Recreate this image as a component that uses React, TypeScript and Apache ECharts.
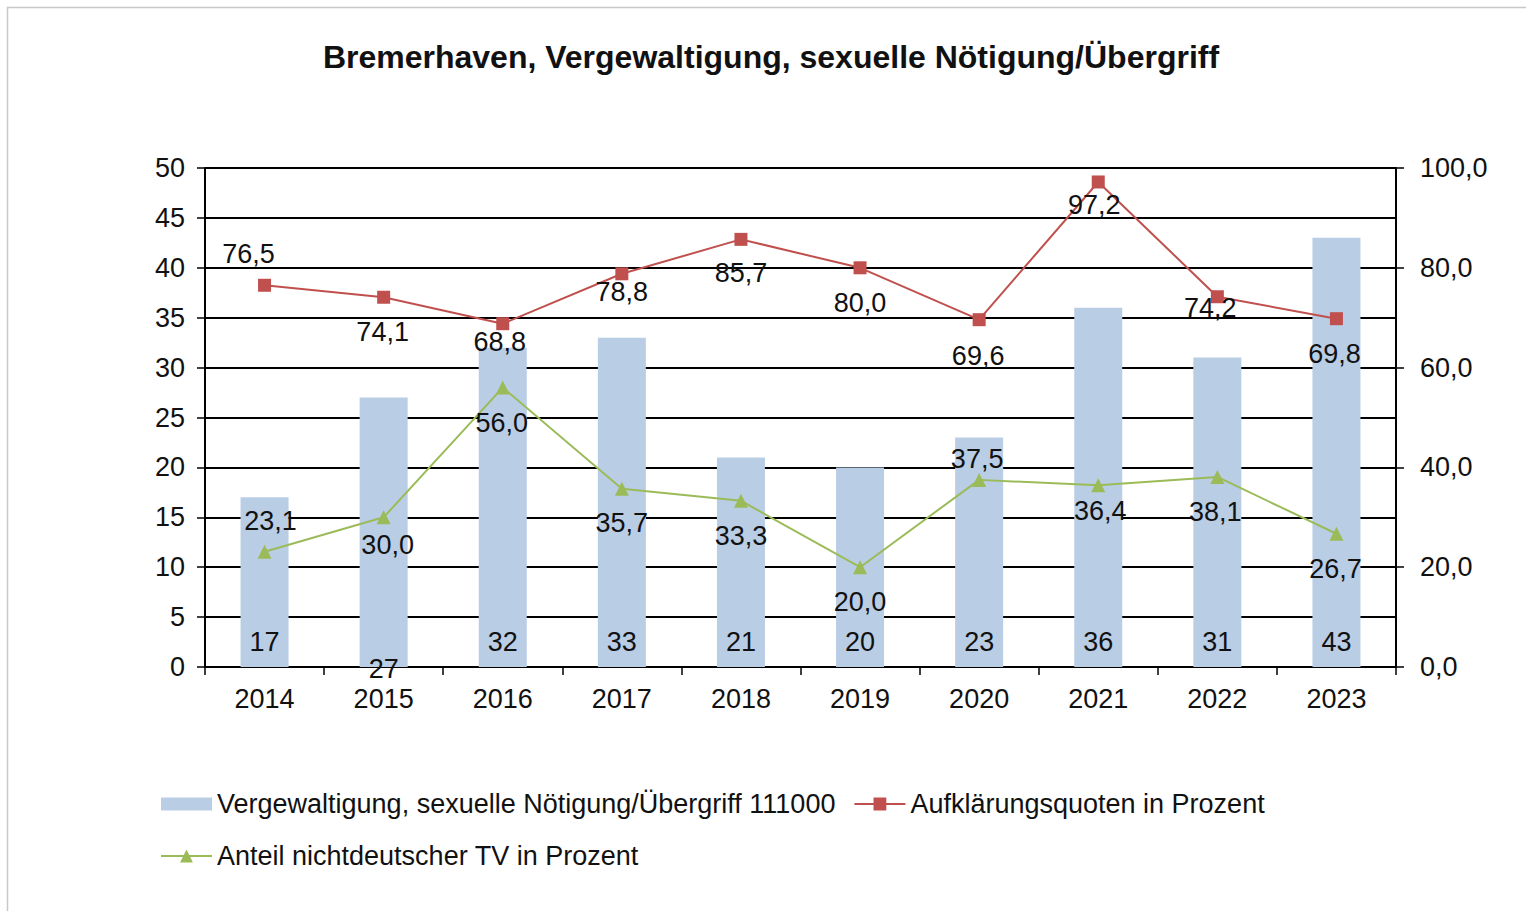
import React, { useEffect, useRef } from "react";
import * as echarts from "echarts";

const years = ["2014", "2015", "2016", "2017", "2018", "2019", "2020", "2021", "2022", "2023"];
const cases = [17, 27, 32, 33, 21, 20, 23, 36, 31, 43];
const clearanceRate = [76.5, 74.1, 68.8, 78.8, 85.7, 80.0, 69.6, 97.2, 74.2, 69.8];
const foreignShare = [23.1, 30.0, 56.0, 35.7, 33.3, 20.0, 37.5, 36.4, 38.1, 26.7];

// label layout (pixel offsets from each point), separate from the data
const caseLabelShift = [0, 27, 0, 0, 0, 0, 0, 0, 0, 0];
const redLabelOffsets = [[-16, -31], [-1, 35], [-3, 18], [0, 18], [0, 34], [0, 35], [-1, 36], [-4, 23], [-7, 11], [-2, 35]];
const greenLabelOffsets = [[6, -31], [4, 28], [-1, 35], [0, 34], [0, 35], [0, 35], [-2, -21], [2, 26], [-2, 35], [-1, 35]];

const FONT = "'Liberation Sans', Arial, sans-serif";
const TXT = "#111111";
const FS = 27;
const fmt = (v: number) => v.toFixed(1).replace(".", ",");

const BAR_NAME = "Vergewaltigung, sexuelle Nötigung/Übergriff 111000";
const RED_NAME = "Aufklärungsquoten in Prozent";
const GREEN_NAME = "Anteil nichtdeutscher TV in Prozent";

export default function App() {
  const ref = useRef<HTMLDivElement>(null);
  useEffect(() => {
    if (!ref.current) return;
    const chart = echarts.init(ref.current, null, { renderer: "svg" });
    chart.setOption({
      animation: false,
      backgroundColor: "#ffffff",
      textStyle: { fontFamily: FONT },
      title: {
        text: "Bremerhaven, Vergewaltigung, sexuelle Nötigung/Übergriff",
        left: 766,
        textAlign: "center",
        top: 36,
        textStyle: { fontFamily: FONT, fontSize: 32, fontWeight: "bold", color: TXT },
      },
      graphic: [
        {
          type: "rect",
          shape: { x: 7.5, y: 7.5, width: 1600, height: 1000 },
          style: { fill: "none", stroke: "#c8c8c8", lineWidth: 1.5 },
          z: -10,
          silent: true,
        },
      ],
      legend: {
        left: 155,
        top: 782,
        width: 1150,
        itemWidth: 51,
        itemHeight: 16,
        itemGap: 18,
        textStyle: { fontFamily: FONT, fontSize: FS, color: TXT, lineHeight: 34 },
        data: [
          { name: BAR_NAME, icon: "path://M0,0 H51 V13 H0 Z" },
          RED_NAME,
          GREEN_NAME,
        ],
      },
      grid: { left: 205, right: 130, top: 168, bottom: 244, containLabel: false, outerBoundsMode: "none" },
      xAxis: {
        type: "category",
        data: years,
        boundaryGap: true,
        axisLine: { lineStyle: { color: "#000", width: 2 } },
        axisTick: { show: true, length: 8, lineStyle: { color: "#000", width: 1.5 } },
        axisLabel: { fontFamily: FONT, fontSize: FS, color: TXT, margin: 18 },
      },
      yAxis: [
        {
          type: "value",
          min: 0,
          max: 50,
          interval: 5,
          axisLine: { show: true, lineStyle: { color: "#000", width: 2 } },
          axisTick: { show: true, length: 8, lineStyle: { color: "#000", width: 1.5 } },
          splitLine: { show: true, lineStyle: { color: "#000", width: 1.8 } },
          axisLabel: { fontFamily: FONT, fontSize: FS, color: TXT, margin: 20 },
        },
        {
          type: "value",
          min: 0,
          max: 100,
          interval: 20,
          axisLine: { show: true, lineStyle: { color: "#000", width: 2 } },
          axisTick: { show: true, length: 8, lineStyle: { color: "#000", width: 1.5 } },
          splitLine: { show: false },
          axisLabel: { fontFamily: FONT, fontSize: FS, color: TXT, margin: 24, formatter: (v: number) => fmt(v) },
        },
      ],
      series: [
        {
          name: BAR_NAME,
          type: "bar",
          yAxisIndex: 0,
          barWidth: 48,
          itemStyle: { color: "#B9CDE5" },
          data: cases.map((v, i) => ({ value: v, label: { offset: [0, caseLabelShift[i]] } })),
          label: {
            show: true,
            position: "insideBottom",
            distance: 12,
            fontFamily: FONT,
            fontSize: FS,
            color: TXT,
          },
          z: 1,
        },
        {
          name: RED_NAME,
          type: "line",
          yAxisIndex: 1,
          symbol: "rect",
          symbolSize: 13,
          lineStyle: { color: "#C0504D", width: 2 },
          itemStyle: { color: "#C0504D" },
          data: clearanceRate.map((v, i) => ({ value: v, label: { offset: redLabelOffsets[i] } })),
          label: {
            show: true,
            position: "inside",
            fontFamily: FONT,
            fontSize: FS,
            color: TXT,
            formatter: (p: any) => fmt(p.value),
          },
          z: 3,
        },
        {
          name: GREEN_NAME,
          type: "line",
          yAxisIndex: 1,
          symbol: "triangle",
          symbolSize: 14,
          lineStyle: { color: "#9BBB59", width: 2 },
          itemStyle: { color: "#9BBB59" },
          data: foreignShare.map((v, i) => ({ value: v, label: { offset: greenLabelOffsets[i] } })),
          label: {
            show: true,
            position: "inside",
            fontFamily: FONT,
            fontSize: FS,
            color: TXT,
            formatter: (p: any) => fmt(p.value),
          },
          z: 3,
        },
      ],
    });
    return () => chart.dispose();
  }, []);
  return (
    <div
      ref={ref}
      style={{ position: "fixed", left: 0, top: 0, width: 1526, height: 911, background: "#fff" }}
    />
  );
}
